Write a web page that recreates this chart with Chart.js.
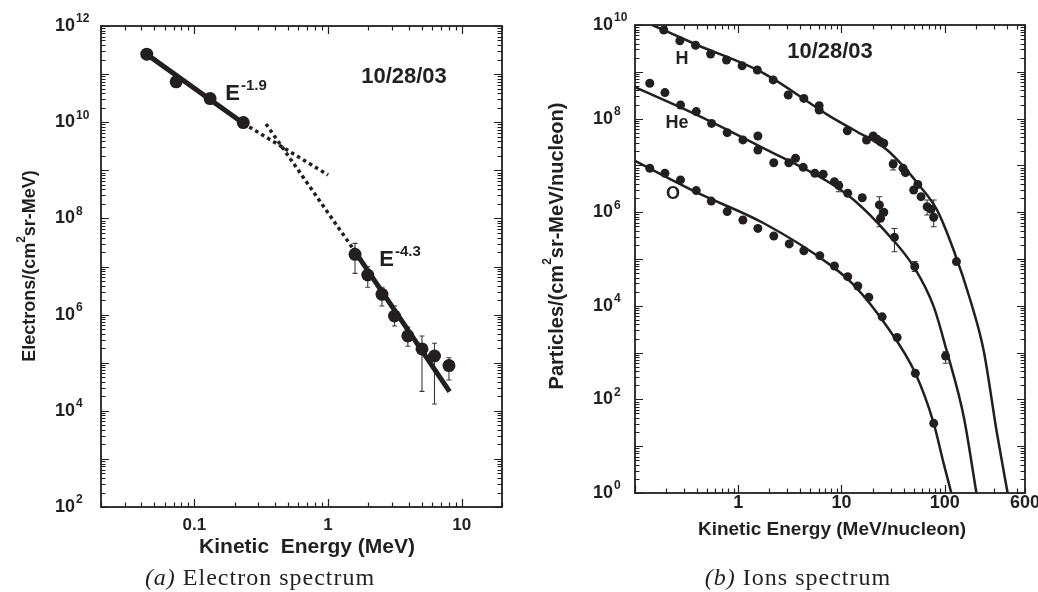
<!DOCTYPE html>
<html>
<head>
<meta charset="utf-8">
<script src="https://cdn.jsdelivr.net/npm/chart.js@4.4.1/dist/chart.umd.min.js"></script>
<style>
    body { margin: 0; background: #fff; width: 1038px; height: 592px; overflow: hidden; position: relative; }
    canvas { position: absolute; top: 0; }
    #electronChart { left: 0; }
    #ionChart { left: 519px; }
    .caption { position: absolute; top: 564px; font-family: "Liberation Serif", serif; font-size: 24px; letter-spacing: 1px; color: #231f20; white-space: nowrap; transform: translateX(-50%); }
</style>
</head>
<body>
<canvas id="electronChart" width="519" height="592"></canvas>
<canvas id="ionChart" width="519" height="592"></canvas>
<div class="caption" style="left:260px"><i>(a)</i> Electron spectrum</div>
<div class="caption" style="left:798px"><i>(b)</i> Ions spectrum</div>
<script>
const ink = '#231f20';
const sans = '"Liberation Sans", Arial, sans-serif';

// (a) electron spectrum, 10/28/03
const electronEnergy = [0.044, 0.073, 0.131, 0.232, 1.59, 1.98, 2.53, 3.14, 3.95, 5.04, 6.25, 8.02];
const electronFlux = [2.6e11, 6.9e10, 3.1e10, 9.8e9, 1.79e7, 6.65e6, 2.64e6, 9.35e5, 3.6e5, 1.93e5, 1.38e5, 8.7e4];
const electronErrEnergy = [1.59, 1.98, 2.53, 3.14, 3.95, 5.04, 6.25, 8.02];
const electronErrLow = [7.2e6, 3.7e6, 1.51e6, 5.8e5, 2.2e5, 2.54e4, 1.38e4, 4.37e4];
const electronErrHigh = [3.03e7, 9.9e6, 3.7e6, 1.51e6, 5.5e5, 3.6e5, 2.53e5, 1.27e5];
const softFitEnergy = [0.043, 0.232];
const softFitFlux = [2.7e11, 9.5e9];
const softExtEnergy = [0.232, 1.0];
const softExtFlux = [9.5e9, 8.0e8];
const hardExtEnergy = [0.343, 1.53];
const hardExtFlux = [9.2e9, 2.39e7];
const hardFitEnergy = [1.53, 8.11];
const hardFitFlux = [2.39e7, 2.5e4];
const electronTickValues = [0.1, 1, 10];
const electronTickLabels = ['0.1', '1', '10'];
const electronPowers = [2, 4, 6, 8, 10, 12];

// (b) ion spectra
const hEnergy = [0.19, 0.272, 0.386, 0.54, 0.77, 1.09, 1.53, 2.18, 3.05, 4.32, 6.08, 6.08, 11.4, 17.5, 20.3, 22.2, 23.9, 25.7, 31.7, 39.5, 41.7, 50.1, 54.9, 59, 67.6, 73.8, 78.3, 130];
const hFlux = [7.8e9, 4.6e9, 3.7e9, 2.4e9, 1.79e9, 1.35e9, 1.09e9, 6.7e8, 3.2e8, 2.7e8, 1.89e8, 1.53e8, 5.5e7, 3.49e7, 4.25e7, 3.6e7, 3.2e7, 2.97e7, 1.07e7, 8.7e6, 7e6, 2.98e6, 3.9e6, 2.15e6, 1.31e6, 1.15e6, 7.8e5, 8.8e4];
const heEnergy = [0.139, 0.195, 0.276, 0.392, 0.552, 0.782, 1.11, 1.55, 1.55, 2.21, 3.09, 3.59, 4.26, 5.52, 6.66, 8.55, 9.42, 11.5, 15.9, 23.3, 25.7, 23.9, 32.6, 51.3, 102];
const heFlux = [5.7e8, 3.6e8, 1.95e8, 1.41e8, 7.9e7, 5e7, 3.5e7, 4.25e7, 2.13e7, 1.14e7, 1.14e7, 1.42e7, 9.1e6, 6.8e6, 6.5e6, 4.5e6, 3.7e6, 2.54e6, 2.04e6, 1.43e6, 1.0e6, 7.4e5, 2.9e5, 6.9e4, 845];
const oEnergy = [0.139, 0.195, 0.276, 0.392, 0.548, 0.782, 1.11, 1.55, 2.21, 3.12, 4.32, 6.17, 8.55, 11.5, 14.4, 18.4, 24.8, 34.6, 52, 78.3];
const oFlux = [8.7e6, 6.8e6, 4.9e6, 2.9e6, 1.73e6, 1.03e6, 6.8e5, 4.5e5, 3.1e5, 2.1e5, 1.5e5, 1.18e5, 7.1e4, 4.2e4, 2.65e4, 1.52e4, 5.8e3, 2.1e3, 361, 30.8];
const hCurveEnergy = [0.147, 0.401, 1.77, 7.83, 13.2, 27.7, 58.2, 84.4, 122, 177, 238, 321, 407];
const hCurveFlux = [1e10, 3.74e9, 9.3e8, 1.1e8, 5.7e7, 2.13e7, 3.5e6, 1.11e6, 1.56e5, 1.33e4, 1.14e3, 18.9, 1];
const heCurveEnergy = [0.1, 0.401, 1.77, 7.83, 13.2, 27.7, 50.1, 78.3, 104, 153, 203];
const heCurveFlux = [4.7e8, 1.19e8, 2.32e7, 4.15e6, 1.82e6, 3.54e5, 6.85e4, 9.6e3, 1.14e3, 42.7, 1];
const oCurveEnergy = [0.1, 0.401, 1.77, 7.83, 13.2, 27.7, 52, 78.3, 97.7, 116];
const oCurveFlux = [1.25e7, 2.61e6, 5.8e5, 7.4e4, 2.78e4, 3.57e3, 361, 30.8, 4.3, 1];
const ionErrEnergy = [31.7, 67.6, 78.3, 9.42, 23.3, 32.6, 51.3, 102];
const ionErrLow = [8e6, 8.7e5, 4.9e5, 2.74e6, 4.9e5, 1.43e5, 5.4e4, 590];
const ionErrHigh = [1.3e7, 1.82e6, 1.82e6, 4.5e6, 2.14e6, 4.5e5, 8.8e4, 1040];
const ionTickValues = [1, 10, 100, 600];
const ionTickLabels = ['1', '10', '100', '600'];
const ionPowers = [0, 2, 4, 6, 8, 10];

const pts = (xs, ys) => xs.map((x, i) => ({ x, y: ys[i] }));

function scatterSet(xs, ys, radius) {
    return { data: pts(xs, ys), pointRadius: radius, backgroundColor: ink, borderWidth: 0, order: 0 };
}

function lineSet(xs, ys, width, dash, smooth) {
    return {
        data: pts(xs, ys), showLine: true, pointRadius: 0, borderColor: ink, borderWidth: width,
        borderDash: dash, fill: false, cubicInterpolationMode: smooth ? 'monotone' : 'default', order: 1
    };
}

// 1..9 x 10^n positions between min and max, for the minor/major ticks
function logTicks(min, max) {
    const out = [];
    for (let d = Math.floor(Math.log10(min)); d <= Math.ceil(Math.log10(max)); d++) {
        for (let m = 1; m < 10; m++) {
            const v = m * Math.pow(10, d);
            if (v >= min * 0.999 && v <= max * 1.001) out.push({ v, major: m === 1 });
        }
    }
    return out;
}

function drawPower(ctx, base, exp, xRight, yMid, size, expSize) {
    ctx.textBaseline = 'middle';
    ctx.textAlign = 'left';
    ctx.font = `bold ${size}px ${sans}`;
    const w = ctx.measureText(base).width;
    ctx.fillText(base, xRight - w, yMid);
    ctx.font = `bold ${expSize}px ${sans}`;
    ctx.fillText(exp, xRight + 1, yMid - size * 0.38);
}

function drawRotatedTitle(ctx, before, sup, after, cx, cy, size, supSize) {
    ctx.save();
    ctx.translate(cx, cy);
    ctx.rotate(-Math.PI / 2);
    ctx.textBaseline = 'middle';
    ctx.textAlign = 'left';
    ctx.font = `bold ${size}px ${sans}`;
    const w1 = ctx.measureText(before).width;
    const w3 = ctx.measureText(after).width;
    ctx.font = `bold ${supSize}px ${sans}`;
    const w2 = ctx.measureText(sup).width;
    let x = -(w1 + w2 + w3) / 2;
    ctx.font = `bold ${size}px ${sans}`;
    ctx.fillText(before, x, 0);
    x += w1;
    ctx.font = `bold ${supSize}px ${sans}`;
    ctx.fillText(sup, x, -size * 0.45);
    x += w2;
    ctx.font = `bold ${size}px ${sans}`;
    ctx.fillText(after, x, 0);
    ctx.restore();
}

function drawText(ctx, text, x, y, size) {
    ctx.font = `bold ${size}px ${sans}`;
    ctx.textAlign = 'center';
    ctx.textBaseline = 'middle';
    ctx.fillText(text, x, y);
}

function framePlugin(cfg) {
    return {
        id: 'frame',
        afterDraw(chart) {
            const { ctx, chartArea: a, scales: { x, y } } = chart;
            ctx.save();
            ctx.strokeStyle = ink;
            ctx.fillStyle = ink;
            ctx.lineWidth = 1.2;
            ctx.beginPath();
            logTicks(x.min, x.max).forEach(t => {
                const px = Math.round(x.getPixelForValue(t.v)) + 0.5;
                const len = t.major ? 8 : 4.5;
                ctx.moveTo(px, a.bottom); ctx.lineTo(px, a.bottom - len);
                ctx.moveTo(px, a.top); ctx.lineTo(px, a.top + len);
            });
            logTicks(y.min, y.max).forEach(t => {
                const py = Math.round(y.getPixelForValue(t.v)) + 0.5;
                const len = t.major ? 8 : 4.5;
                ctx.moveTo(a.left, py); ctx.lineTo(a.left + len, py);
                ctx.moveTo(a.right, py); ctx.lineTo(a.right - len, py);
            });
            ctx.stroke();
            ctx.lineWidth = 1.8;
            ctx.strokeRect(a.left, a.top, a.right - a.left, a.bottom - a.top);

            cfg.xTicks.forEach((v, i) => drawText(ctx, cfg.xLabels[i], x.getPixelForValue(v), a.bottom + cfg.xLabelGap, cfg.xLabelSize));
            cfg.yPowers.forEach(p => drawPower(ctx, '10', String(p), a.left - cfg.yLabelGap, y.getPixelForValue(Math.pow(10, p)), 18, 12));
            drawText(ctx, cfg.xTitle, cfg.xTitlePos[0], cfg.xTitlePos[1], cfg.xTitleSize);
            drawRotatedTitle(ctx, cfg.yTitle[0], '2', cfg.yTitle[1], cfg.yTitlePos[0], cfg.yTitlePos[1], cfg.yTitleSize, 12);
            cfg.annotate(ctx);
            ctx.restore();
        }
    };
}

function errorBarPlugin(xs, lo, hi, cap) {
    return {
        id: 'errorBars',
        beforeDatasetsDraw(chart) {
            const { ctx, scales: { x, y } } = chart;
            ctx.save();
            ctx.strokeStyle = '#3a3a3a';
            ctx.lineWidth = 1.1;
            ctx.beginPath();
            xs.forEach((e, i) => {
                const px = x.getPixelForValue(e);
                const top = y.getPixelForValue(hi[i]);
                const bot = y.getPixelForValue(lo[i]);
                ctx.moveTo(px, top); ctx.lineTo(px, bot);
                ctx.moveTo(px - cap, top); ctx.lineTo(px + cap, top);
                ctx.moveTo(px - cap, bot); ctx.lineTo(px + cap, bot);
            });
            ctx.stroke();
            ctx.restore();
        }
    };
}

function baseOptions(padding, xRange, yRange) {
    return {
        responsive: false,
        animation: false,
        events: [],
        layout: { padding },
        scales: {
            x: { type: 'logarithmic', min: xRange[0], max: xRange[1], display: false },
            y: { type: 'logarithmic', min: yRange[0], max: yRange[1], display: false }
        },
        plugins: { legend: { display: false }, tooltip: { enabled: false } }
    };
}

new Chart(document.getElementById('electronChart'), {
    type: 'scatter',
    data: {
        datasets: [
            scatterSet(electronEnergy, electronFlux, 6.5),
            lineSet(softFitEnergy, softFitFlux, 5, []),
            lineSet(softExtEnergy, softExtFlux, 3.5, [3.5, 3.5]),
            lineSet(hardExtEnergy, hardExtFlux, 3.5, [3.5, 3.5]),
            lineSet(hardFitEnergy, hardFitFlux, 5, [])
        ]
    },
    options: baseOptions({ left: 101, top: 26, right: 17, bottom: 85 }, [0.02, 20], [1e2, 1e12]),
    plugins: [
        errorBarPlugin(electronErrEnergy, electronErrLow, electronErrHigh, 2.5),
        framePlugin({
            xTicks: electronTickValues, xLabels: electronTickLabels, xLabelGap: 18, xLabelSize: 17,
            yPowers: electronPowers, yLabelGap: 26,
            xTitle: 'Kinetic  Energy (MeV)', xTitlePos: [307, 547], xTitleSize: 21,
            yTitle: ['Electrons/(cm', 'sr-MeV)'], yTitlePos: [30, 266], yTitleSize: 18,
            annotate(ctx) {
                drawText(ctx, '10/28/03', 404, 77, 22);
                drawPower(ctx, 'E', '-1.9', 240, 94, 22, 15);
                drawPower(ctx, 'E', '-4.3', 394, 260, 22, 15);
            }
        })
    ]
});

new Chart(document.getElementById('ionChart'), {
    type: 'scatter',
    data: {
        datasets: [
            scatterSet(hEnergy, hFlux, 4.5),
            scatterSet(heEnergy, heFlux, 4.5),
            scatterSet(oEnergy, oFlux, 4.5),
            lineSet(hCurveEnergy, hCurveFlux, 2.5, [], true),
            lineSet(heCurveEnergy, heCurveFlux, 2.5, [], true),
            lineSet(oCurveEnergy, oCurveFlux, 2.5, [], true)
        ]
    },
    options: baseOptions({ left: 116, top: 25, right: 13, bottom: 99 }, [0.1, 600], [1, 1e10]),
    plugins: [
        errorBarPlugin(ionErrEnergy, ionErrLow, ionErrHigh, 3),
        framePlugin({
            xTicks: ionTickValues, xLabels: ionTickLabels, xLabelGap: 10, xLabelSize: 18,
            yPowers: ionPowers, yLabelGap: 22,
            xTitle: 'Kinetic Energy (MeV/nucleon)', xTitlePos: [313, 530], xTitleSize: 19,
            yTitle: ['Particles/(cm', 'sr-MeV/nucleon)'], yTitlePos: [38, 246], yTitleSize: 20,
            annotate(ctx) {
                drawText(ctx, '10/28/03', 311, 52, 22);
                drawText(ctx, 'H', 163, 59, 18);
                drawText(ctx, 'He', 158, 123, 18);
                drawText(ctx, 'O', 154, 194, 18);
            }
        })
    ]
});
</script>
</body>
</html>
